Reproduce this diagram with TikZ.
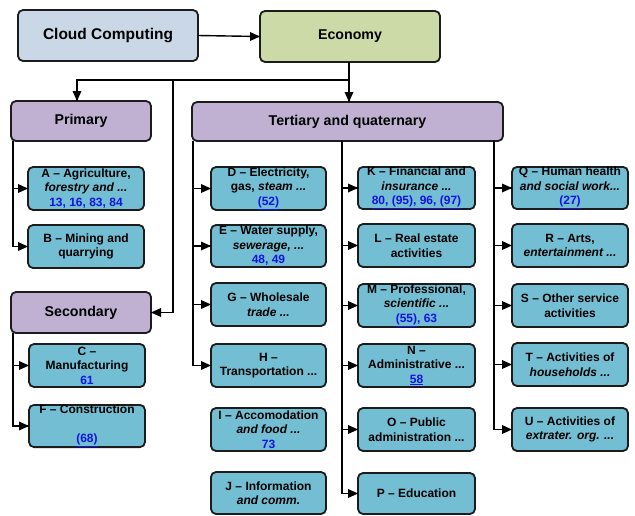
\documentclass[tikz,border=0pt]{standalone}
\usepackage{fontspec}
\setmainfont{Liberation Sans}
\definecolor{cloudc}{RGB}{201,215,231}
\definecolor{econc}{RGB}{204,218,168}
\definecolor{purc}{RGB}{192,177,211}
\definecolor{tealc}{RGB}{115,190,210}
\definecolor{edgec}{RGB}{28,28,28}
\definecolor{numc}{RGB}{20,20,225}
\newcommand\bx[7]{\node[#1, minimum width=#5pt-#3pt, minimum height=#6pt-#4pt] (#2) at ({(#3+#5)/2},{(#4+#6)/2}) {#7};}
\newcommand\nm[1]{{\color{numc}#1}}
\newcommand\un[1]{{\color{numc}\underline{#1}}}
% arrowheads ending at a point: pointing east, south (down), west
\newcommand\tipE[1]{\fill[black] (#1) -- ++(-10,-4.5) -- ++(0,9) -- cycle;}
\newcommand\tipS[1]{\fill[black] (#1) -- ++(-4.5,-10) -- ++(9,0) -- cycle;}
\newcommand\tipW[1]{\fill[black] (#1) -- ++(10,-4.5) -- ++(0,9) -- cycle;}
\tikzset{
  basebox/.style={draw=edgec, line width=1.8pt, rounded corners=5pt, inner sep=0pt, outer sep=0pt, align=center, font=\bfseries},
  topbox/.style={basebox, font=\fontsize{15.5}{18}\selectfont\bfseries},
  secbox/.style={basebox, fill=purc, font=\fontsize{14.2}{17}\selectfont\bfseries},
  leaf/.style={basebox, fill=tealc, font=\fontsize{12}{14.5}\selectfont\bfseries},
  conn/.style={draw=black, line width=1.4pt}
}
\begin{document}
\begin{tikzpicture}[x=1pt,y=-1pt]
\useasboundingbox (0,0) rectangle (635,515);
\bx{topbox, fill=cloudc}{cloud}{18}{10}{198}{61}{Cloud Computing}
\bx{topbox, fill=econc, font=\fontsize{14.2}{17}\selectfont\bfseries}{eco}{260}{11}{440}{62}{Economy}
\bx{secbox}{pri}{11}{101}{151}{141}{Primary}
\bx{secbox}{sec}{11}{292}{151}{333}{Secondary}
\bx{secbox}{ter}{192}{102}{503}{141}{Tertiary and quaternary}
% primary
\bx{leaf}{A}{28}{167}{144}{210}{A -- Agriculture,\\\textit{forestry and ...}\\\nm{13, 16, 83, 84}}
\bx{leaf}{B}{28}{225}{144}{268}{B -- Mining and\\quarrying}
% secondary
\bx{leaf}{C}{29}{344}{145}{387}{C --\\Manufacturing\\\nm{61}}
\bx{leaf}{F}{29}{405}{145}{447}{F -- Construction\\[14.5pt]\un{(68)}}
% tertiary col 1
\bx{leaf}{D}{211}{167}{326}{210}{D -- Electricity,\\gas, \textit{steam ...}\\\un{(52)}}
\bx{leaf}{E}{211}{225}{326}{267}{E -- Water supply,\\\textit{sewerage, ...}\\\nm{48, 49}}
\bx{leaf}{G}{211}{283}{326}{326}{G -- Wholesale\\\textit{trade ...}}
\bx{leaf}{H}{211}{344}{326}{387}{H --\\Transportation ...}
\bx{leaf}{I}{211}{408}{326}{451}{I -- Accomodation\\\textit{and food ...}\\\nm{73}}
\bx{leaf}{J}{211}{472}{326}{514}{J -- Information\\\textit{and comm.}}
% tertiary col 2
\bx{leaf}{K}{358}{167}{475}{209}{K -- Financial and\\\textit{insurance ...}\\\un{80, (95), 96, (97)}}
\bx{leaf}{L}{358}{224}{475}{267}{L -- Real estate\\activities}
\bx{leaf}{M}{358}{284}{475}{327}{M -- Professional,\\\textit{scientific ...}\\\un{(55)}\nm{, 63}}
\bx{leaf}{N}{358}{344}{475}{387}{N --\\Administrative ...\\\un{58}}
\bx{leaf}{O}{358}{408}{475}{451}{O -- Public\\administration ...}
\bx{leaf}{P}{358}{473}{475}{514}{P -- Education}
% tertiary col 3
\bx{leaf}{Q}{512}{167}{628}{209}{Q -- Human health\\\textit{and social work...}\\\un{(27)}}
\bx{leaf}{R}{512}{224}{628}{267}{R -- Arts,\\\textit{entertainment ...}}
\bx{leaf}{S}{512}{284}{628}{327}{S -- Other service\\activities}
\bx{leaf}{T}{512}{343}{628}{386}{T -- Activities of\\\textit{households ...}}
\bx{leaf}{U}{512}{408}{628}{451}{U -- Activities of\\\textit{extrater. org. ...}}
% junctions
\coordinate (j1) at (349,80);
\coordinate (j2) at (173,80);
\coordinate (pj) at (77,80);
\coordinate (p0) at (13,141);
\coordinate (s0) at (13,333);
\coordinate (t1) at (193,141);
\coordinate (t2) at (342,141);
\coordinate (t3) at (494,141);
% connectors
\draw[conn] (cloud.east) -- (eco.west);  \tipE{eco.west}
\draw[conn] (eco.south -| j1) -- (j1 |- ter.north); \tipS{j1 |- ter.north}
\draw[conn] (j1) -- (pj) -- (pj |- pri.north); \tipS{pj |- pri.north}
\draw[conn] (j2) |- (sec.east); \tipW{sec.east}
\foreach \n in {A,B} {\draw[conn] (p0) |- (\n.west); \tipE{\n.west}}
\foreach \n in {C,F} {\draw[conn] (s0) |- (\n.west); \tipE{\n.west}}
\foreach \n in {D,E,G,H} {\draw[conn] (t1) |- (\n.west); \tipE{\n.west}}
\foreach \n in {K,L,M,N,O,P} {\draw[conn] (t2) |- (\n.west); \tipE{\n.west}}
\foreach \n in {Q,R,S,T,U} {\draw[conn] (t3) |- (\n.west); \tipE{\n.west}}
\end{tikzpicture}
\end{document}
